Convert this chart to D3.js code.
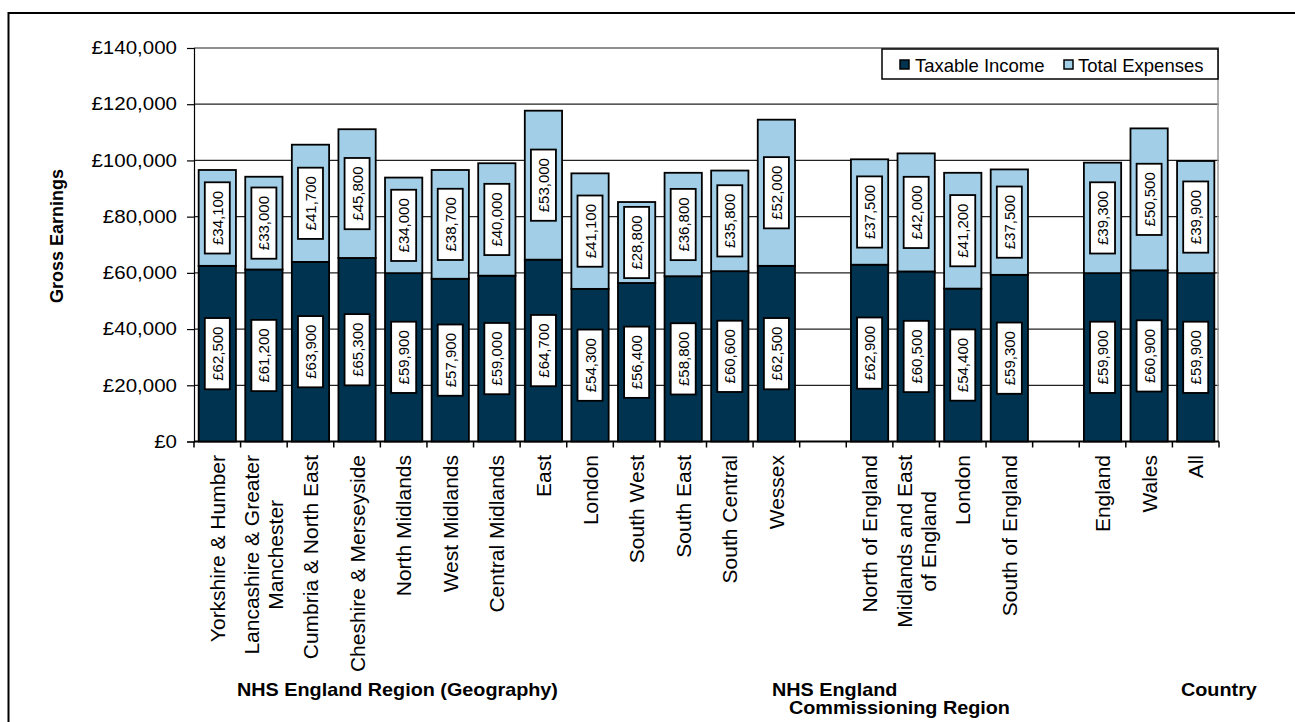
<!DOCTYPE html>
<html><head><meta charset="utf-8">
<script src="https://cdn.jsdelivr.net/npm/d3@7"></script>
<style>body{margin:0;background:#fff;} svg{display:block;}</style>
</head><body>
<svg id="chart" width="1295" height="722"></svg>
<script>
const categories = ["Yorkshire & Humber", "Lancashire & Greater\nManchester", "Cumbria & North East", "Cheshire & Merseyside", "North Midlands", "West Midlands", "Central Midlands", "East", "London", "South West", "South East", "South Central", "Wessex", "", "North of England", "Midlands and East\nof England", "London", "South of England", "", "England", "Wales", "All"];
const taxableIncome = [62500, 61200, 63900, 65300, 59900, 57900, 59000, 64700, 54300, 56400, 58800, 60600, 62500, null, 62900, 60500, 54400, 59300, null, 59900, 60900, 59900];
const totalExpenses = [34100, 33000, 41700, 45800, 34000, 38700, 40000, 53000, 41100, 28800, 36800, 35800, 52000, null, 37500, 42000, 41200, 37500, null, 39300, 50500, 39900];
const yTicks = [0, 20000, 40000, 60000, 80000, 100000, 120000, 140000];
const seriesNames = ["Taxable Income", "Total Expenses"];
const groupLabels = [["NHS England Region (Geography)"], ["NHS England", "Commissioning Region"], ["Country"]];

const colors = ["#003350", "#a2cfe7"];
const FONT = "Liberation Sans, Arial, sans-serif";
const svg = d3.select("#chart");

const pL = 194, pR = 1219, pT = 48, pB = 441.5;
const x = d3.scaleBand().domain(d3.range(categories.length)).range([pL, pR]).paddingInner(0.2).paddingOuter(0.1);
const y = d3.scaleLinear().domain([0, 140000]).range([pB, pT]);
const step = x.step();

// outer frame (top and left edges visible)
svg.append("path").attr("d", "M8.5,722 V13 H1295")
  .attr("fill", "none").attr("stroke", "#000").attr("stroke-width", 2);

// gridlines
svg.append("g").selectAll("line").data(yTicks.filter(d => d > 0)).join("line")
  .attr("x1", pL).attr("x2", pR).attr("y1", d => y(d)).attr("y2", d => y(d))
  .attr("stroke", "#222").attr("stroke-width", 1.2);
// right plot border
svg.append("line").attr("x1", pR - 1).attr("x2", pR - 1).attr("y1", pT).attr("y2", pB)
  .attr("stroke", "#999").attr("stroke-width", 1.5);

// y axis
const yAxis = d3.axisLeft(y).tickValues(yTicks).tickSize(7).tickPadding(9)
  .tickFormat(d => "£" + d3.format(",")(d));
const gy = svg.append("g").attr("transform", `translate(${pL},0)`).call(yAxis);
gy.select(".domain").attr("stroke", "#000").attr("stroke-width", 1.2);
gy.selectAll(".tick line").attr("stroke", "#000").attr("stroke-width", 1.2);
gy.selectAll(".tick text").attr("font-family", FONT).attr("font-size", 18).attr("fill", "#000")
  .attr("transform", "scale(1.14,1)").attr("x", -17 / 1.14);

// x axis line and ticks at slot boundaries
const boundaries = d3.range(categories.length + 1).map(i => pL + i * step);
svg.append("line").attr("x1", pL).attr("x2", pR).attr("y1", pB).attr("y2", pB)
  .attr("stroke", "#000").attr("stroke-width", 2);
svg.append("g").selectAll("line").data(boundaries).join("line")
  .attr("x1", d => d).attr("x2", d => d).attr("y1", pB).attr("y2", pB + 6)
  .attr("stroke", "#000").attr("stroke-width", 1.5);

// stacked bars
const rows = categories.map((c, i) => ({ i, t: taxableIncome[i], e: totalExpenses[i] })).filter(d => d.t != null);
const gb = svg.append("g");
rows.forEach(d => {
  const segs = [[0, d.t, 0], [d.t, d.t + d.e, 1]];
  segs.forEach(([a, b, k]) => {
    gb.append("rect").attr("x", x(d.i)).attr("width", x.bandwidth())
      .attr("y", y(b)).attr("height", y(a) - y(b))
      .attr("fill", colors[k]).attr("stroke", "#000").attr("stroke-width", 1.8);
  });
});
// data labels
rows.forEach(d => {
  const segs = [[0, d.t, d.t], [d.t, d.t + d.e, d.e]];
  segs.forEach(([a, b, v]) => {
    const cx = x(d.i) + x.bandwidth() / 2, cy = y((a + b) / 2);
    const g = gb.append("g").attr("transform", `translate(${cx},${cy}) rotate(-90)`);
    const rect = g.append("rect").attr("fill", "#fff").attr("stroke", "#000").attr("stroke-width", 1.8);
    const t = g.append("text").attr("text-anchor", "middle").attr("dominant-baseline", "central")
      .attr("font-family", FONT).attr("font-size", 15).attr("fill", "#000")
      .text("£" + d3.format(",")(v));
    const L = t.node().getComputedTextLength() + 17;
    rect.attr("x", -L / 2).attr("y", -12.5).attr("width", L).attr("height", 25);
  });
});

// category labels
const gc = svg.append("g");
categories.forEach((c, i) => {
  if (!c) return;
  const lines = c.split("\n");
  const cx = x(i) + x.bandwidth() / 2;
  const g = gc.append("g");
  const texts = lines.map((ln, j) => g.append("text").attr("font-family", FONT).attr("font-size", 21)
    .attr("fill", "#000").attr("text-anchor", "middle").attr("dominant-baseline", "central").text(ln));
  const maxL = d3.max(texts, t => t.node().getComputedTextLength());
  const cy = 455 + maxL / 2;
  texts.forEach((t, j) => {
    const off = (j - (lines.length - 1) / 2) * 24;
    t.attr("transform", `translate(${cx + off},${cy}) rotate(-90)`);
  });
});

// legend
const lg = svg.append("g");
lg.append("rect").attr("x", 882).attr("y", 49).attr("width", 336).attr("height", 30)
  .attr("fill", "#fff").attr("stroke", "#000").attr("stroke-width", 1.5);
const legX = [900, 1064], legTX = [915, 1078];
seriesNames.forEach((s, k) => {
  lg.append("rect").attr("x", legX[k]).attr("y", 60).attr("width", 9).attr("height", 9)
    .attr("fill", colors[k]).attr("stroke", "#000").attr("stroke-width", 1.5);
  lg.append("text").attr("x", legTX[k]).attr("y", 65).attr("dominant-baseline", "central")
    .attr("font-family", FONT).attr("font-size", 18.5).attr("fill", "#000").text(s);
});

// y axis title
svg.append("text").attr("transform", "translate(57,236) rotate(-90)")
  .attr("text-anchor", "middle").attr("dominant-baseline", "central")
  .attr("font-family", FONT).attr("font-weight", "bold").attr("font-size", 18).text("Gross Earnings");

// group labels
const groupPos = [[[237, 690]], [[772, 690], [789, 708]], [[1181, 690]]];
groupLabels.forEach((ls, gi) => {
  ls.forEach((l, j) => {
    const [px, py] = groupPos[gi][j];
    svg.append("text").attr("transform", `translate(${px},${py}) scale(1.1,1)`)
      .attr("dominant-baseline", "central")
      .attr("font-family", FONT).attr("font-weight", "bold").attr("font-size", 18).text(l);
  });
});
</script>
</body></html>
